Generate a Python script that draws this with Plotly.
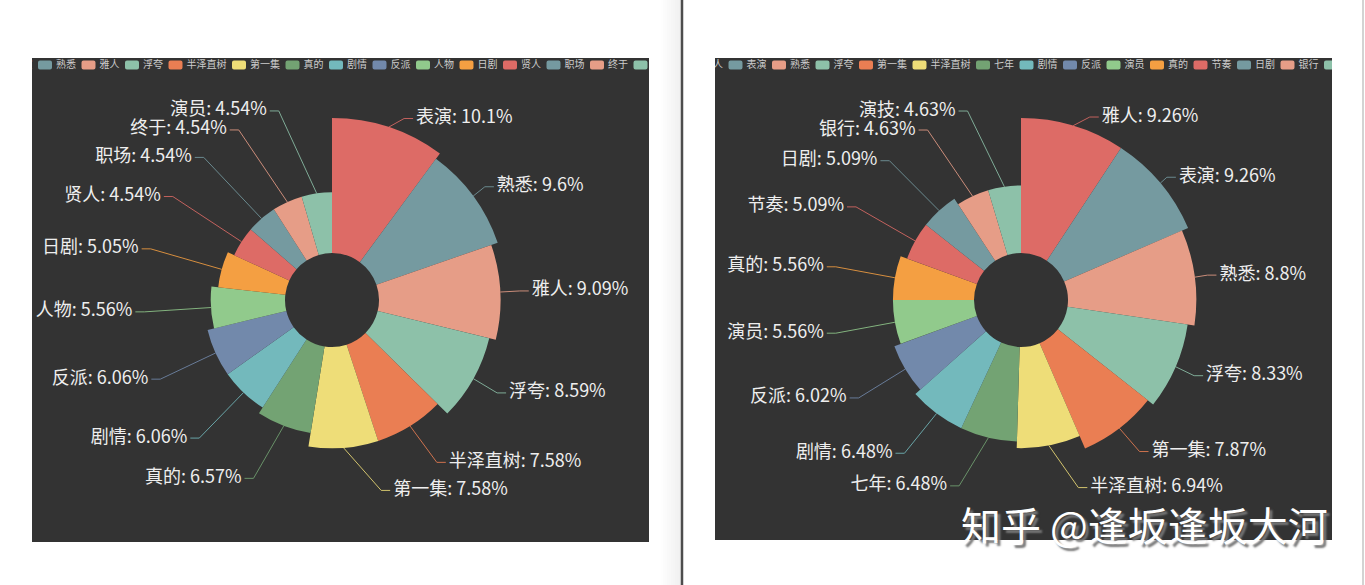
import math
import plotly.graph_objects as go

# ---------------- data ----------------
left_names = ["表演", "熟悉", "雅人", "浮夸", "半泽直树", "第一集", "真的", "剧情",
              "反派", "人物", "日剧", "贤人", "职场", "终于", "演员"]
left_pct = [10.1, 9.6, 9.09, 8.59, 7.58, 7.58, 6.57, 6.06, 6.06, 5.56, 5.05,
            4.54, 4.54, 4.54, 4.54]

right_names = ["雅人", "表演", "熟悉", "浮夸", "第一集", "半泽直树", "七年", "剧情",
               "反派", "演员", "真的", "节奏", "日剧", "银行", "演技"]
right_pct = [9.26, 9.26, 8.8, 8.33, 7.87, 6.94, 6.48, 6.48, 6.02, 5.56, 5.56,
             5.09, 5.09, 4.63, 4.63]

palette = ['#dd6b66', '#759aa0', '#e69d87', '#8dc1a9', '#ea7e53', '#eedd78',
           '#73a373', '#73b9bc', '#7289ab', '#91ca8c', '#f49f42']

watermark_text = "知乎 @逢坂逢坂大河"

# ---------------- layout constants (px) ----------------
W, H = 1365, 585
PANEL_BG = "#333333"
LEFT_PANEL = (32, 58, 649, 542)      # x0, y0, x1, y1
RIGHT_PANEL = (715, 58, 1332, 540)
LEFT_CENTER = (332, 300)
RIGHT_CENTER = (1021, 300)

R0 = 47          # inner radius
R = 182          # outer radius (max value)
LEN = 9          # label line length 1
LEN2 = 9         # label line length 2
GAP = 3          # distance text <-> line end
LABEL_H = 19     # label height used for overlap avoidance
LABEL_FS = 18
POLAR_R = 240    # polar subplot radius in px (1 unit == 1 px)

LEG_Y = 65
CHIP_W, CHIP_H, CHIP_GAP, ITEM_GAP, LEG_FS = 14, 9, 4, 5.5, 10
LEFT_LEG_START = 38 - (CHIP_W + CHIP_GAP + 2 * LEG_FS + ITEM_GAP)
RIGHT_LEG_START = 685

FONT = "Microsoft YaHei, Noto Sans CJK SC, sans-serif"


def colors_for(n):
    return [palette[i % len(palette)] for i in range(n)]


def rose_layout(names, pct, cx, cy, view_top, view_h):
    """ECharts-like rose pie (roseType='radius') geometry + outer labels."""
    total = sum(pct)
    vmax = max(pct)
    items = []
    acc = 0.0
    for i, (n, v) in enumerate(zip(names, pct)):
        ang = v / total * 360.0
        mid = acc + ang / 2.0
        acc += ang
        ri = R0 + (R - R0) * v / vmax
        a = math.radians(mid)
        nx, ny = math.sin(a), -math.cos(a)
        d = -1 if nx < 0 else 1
        x1, y1 = cx + ri * nx, cy + ri * ny
        x2, y2 = cx + (R + LEN) * nx, cy + (R + LEN) * ny
        x3 = x2 + d * LEN2
        items.append(dict(i=i, name=n, v=v, ang=ang, mid=mid, ri=ri, d=d,
                          x1=x1, y1=y1, x=x3 + d * GAP, y=y2))

    def adjust(lst, d):
        lst.sort(key=lambda it: it['y'])
        n = len(lst)

        def shift_up(end, delta):
            for j in range(end, -1, -1):
                if lst[j]['y'] - delta < view_top:
                    break
                lst[j]['y'] -= delta
                if j > 0 and lst[j]['y'] > lst[j - 1]['y'] + LABEL_H:
                    break

        def shift_down(start, end, delta):
            for j in range(start, end):
                if lst[j]['y'] + delta > view_top + view_h:
                    break
                lst[j]['y'] += delta
                if j > start and j + 1 < end and lst[j + 1]['y'] > lst[j]['y'] + LABEL_H:
                    shift_up(j, delta / 2.0)
                    return
            shift_up(end - 1, delta / 2.0)

        last_y = 0
        for k in range(n):
            delta = lst[k]['y'] - last_y
            if delta < 0:
                shift_down(k, n, -delta)
            last_y = lst[k]['y'] + LABEL_H
        if view_top + view_h - last_y < 0:
            shift_up(n - 1, last_y - view_top - view_h)

        def change_x(sub, is_down):
            last = float('inf') if is_down else 0.0
            for it in sub:
                dy = abs(it['y'] - cy)
                if dy < R + LEN:
                    dx = math.sqrt((R + LEN + LEN2) ** 2 - dy ** 2)
                else:
                    dx = abs(it['x'] - cx)
                if is_down and dx >= last:
                    dx = last - 10
                if (not is_down) and dx <= last:
                    dx = last + 10
                it['x'] = cx + dx * d
                last = dx

        change_x([it for it in lst if it['y'] < cy], False)
        change_x([it for it in lst if it['y'] >= cy], True)

    adjust([it for it in items if it['d'] < 0], -1)
    adjust([it for it in items if it['d'] > 0], 1)

    for it in items:
        d = it['d']
        it['x3'] = it['x'] - d * GAP
        it['x2'] = it['x3'] - d * LEN2
    return items


def to_polar(x, y, cx, cy):
    dx, dy = x - cx, y - cy
    r = math.hypot(dx, dy)
    th = math.degrees(math.atan2(dx, -dy)) % 360
    return r, th


fig = go.Figure()


def add_rose(names, pct, center, panel, subplot, xa, ya, leg_start):
    cx, cy = center
    px0, py0, px1, py1 = panel
    cols = colors_for(len(names))
    items = rose_layout(names, pct, cx, cy, py0, py1 - py0)

    # sectors
    fig.add_trace(go.Barpolar(
        r=[it['ri'] - R0 for it in items],
        base=[R0] * len(items),
        theta=[it['mid'] for it in items],
        width=[it['ang'] for it in items],
        marker=dict(color=cols, line=dict(width=0)),
        subplot=subplot, hoverinfo='skip', showlegend=False))

    # leader lines
    for it, c in zip(items, cols):
        pts = [(it['x1'], it['y1']), (it['x2'], it['y']), (it['x3'], it['y'])]
        rr, tt = zip(*[to_polar(px, py, cx, cy) for px, py in pts])
        fig.add_trace(go.Scatterpolar(
            r=list(rr), theta=list(tt), mode='lines',
            line=dict(color=c, width=1), opacity=0.85, subplot=subplot,
            hoverinfo='skip', showlegend=False))

    # label texts
    rr, tt, txt, pos = [], [], [], []
    for it in items:
        r_, t_ = to_polar(it['x'], it['y'], cx, cy)
        rr.append(r_)
        tt.append(t_)
        txt.append(f"{it['name']}: {it['v']:g}%")
        pos.append('middle right' if it['d'] > 0 else 'middle left')
    fig.add_trace(go.Scatterpolar(
        r=rr, theta=tt, mode='text', text=txt, textposition=pos,
        textfont=dict(family=FONT, size=LABEL_FS, color='#eeeeee'),
        cliponaxis=False, subplot=subplot, hoverinfo='skip', showlegend=False))

    # scrolled legend (chips + text), clipped to the panel
    chip_x, text_x = [], []
    x = leg_start
    for n in names:
        chip_x.append(x)
        text_x.append(x + CHIP_W + CHIP_GAP)
        x += CHIP_W + CHIP_GAP + len(n) * LEG_FS + ITEM_GAP
    fig.add_trace(go.Bar(
        orientation='h', y=[LEG_Y] * len(names), x=[CHIP_W] * len(names),
        base=chip_x, width=CHIP_H, marker=dict(color=cols, cornerradius=2, line=dict(width=0)),
        xaxis=xa, yaxis=ya, hoverinfo='skip', showlegend=False))
    fig.add_trace(go.Scatter(
        x=text_x, y=[LEG_Y] * len(names), mode='text', text=names,
        textposition='middle right',
        textfont=dict(family=FONT, size=LEG_FS, color='#cccccc'),
        cliponaxis=True, xaxis=xa, yaxis=ya, hoverinfo='skip', showlegend=False))

    # polar + cartesian axes layout
    polar = dict(
        domain=dict(x=[(cx - POLAR_R) / W, (cx + POLAR_R) / W],
                    y=[(H - (cy + POLAR_R)) / H, (H - (cy - POLAR_R)) / H]),
        bgcolor='rgba(0,0,0,0)',
        radialaxis=dict(range=[0, POLAR_R], visible=False),
        angularaxis=dict(direction='clockwise', rotation=90, visible=False),
    )
    xaxis = dict(domain=[px0 / W, px1 / W], range=[px0, px1], visible=False, fixedrange=True)
    yaxis = dict(domain=[(H - py1) / H, (H - py0) / H], range=[py1, py0], visible=False, fixedrange=True)
    return polar, xaxis, yaxis


p1, xa1, ya1 = add_rose(left_names, left_pct, LEFT_CENTER, LEFT_PANEL, 'polar', 'x', 'y', LEFT_LEG_START)
p2, xa2, ya2 = add_rose(right_names, right_pct, RIGHT_CENTER, RIGHT_PANEL, 'polar2', 'x2', 'y2', RIGHT_LEG_START)

shapes = []
# soft shadow left of the page separator
for k in range(10):
    shapes.append(dict(type='rect', xref='paper', yref='paper',
                       x0=(661 + 2 * k) / W, x1=(663 + 2 * k) / W, y0=0, y1=1,
                       fillcolor=f'rgba(0,0,0,{0.004 + 0.006 * k:.3f})', line=dict(width=0), layer='below'))
shapes.append(dict(type='line', xref='paper', yref='paper', x0=682 / W, x1=682 / W, y0=0, y1=1,
                   line=dict(color='#4d4d4d', width=2.5)))
shapes.append(dict(type='line', xref='paper', yref='paper', x0=1363 / W, x1=1363 / W, y0=0, y1=1,
                   line=dict(color='#c4c4c4', width=1.5)))

fig.update_layout(
    width=W, height=H,
    margin=dict(l=0, r=0, t=0, b=0),
    paper_bgcolor='white', plot_bgcolor=PANEL_BG,
    polar=p1, polar2=p2,
    xaxis=xa1, yaxis=ya1, xaxis2=xa2, yaxis2=ya2,
    showlegend=False,
    shapes=shapes,
    annotations=[dict(
        text=watermark_text, xref='paper', yref='paper',
        x=1330 / W, y=1 - 524 / H, xanchor='right', yanchor='middle',
        showarrow=False,
        font=dict(family=FONT, size=40, color='white', shadow='3px 3px 2px #777'),
    )],
)

fig.write_html("out.html",
               config={'displayModeBar': False, 'staticPlot': True},
               post_script="document.body.style.margin='0';document.body.style.overflow='hidden';")
